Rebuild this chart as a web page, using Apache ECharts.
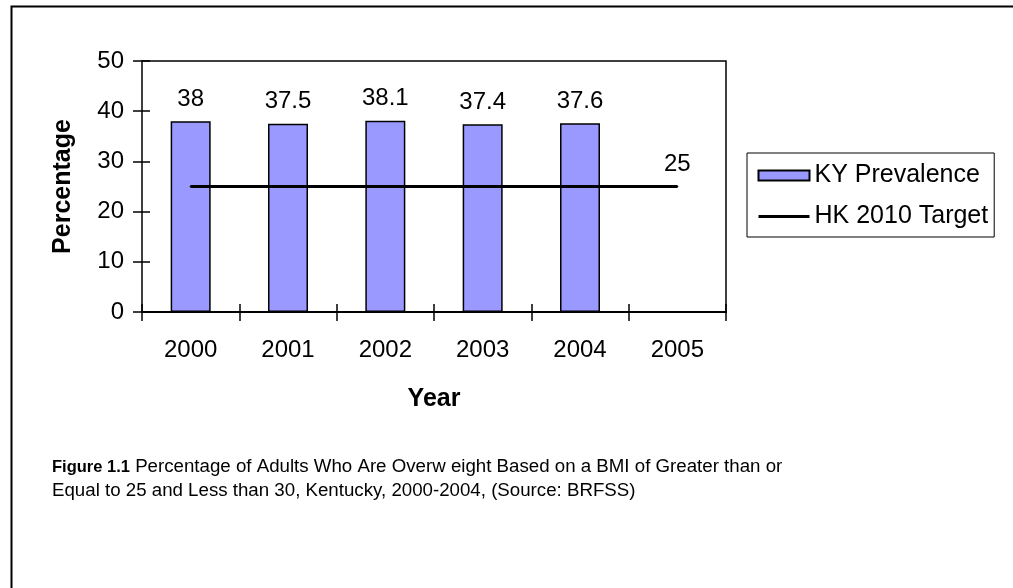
<!DOCTYPE html>
<html>
<head>
<meta charset="utf-8">
<script src="https://cdn.jsdelivr.net/npm/echarts@6/dist/echarts.min.js"></script>
<style>
html, body { margin: 0; padding: 0; background: #fff; }
#chart { width: 1013px; height: 588px; }
</style>
</head>
<body>
<div id="chart"></div>
<script>
const years = ["2000", "2001", "2002", "2003", "2004", "2005"]
const kyPrevalence = [38, 37.5, 38.1, 37.4, 37.6, "-"]
const hkTarget = [25, 25, 25, 25, 25, 25]
const yTicks = { min: 0, max: 50, interval: 10 }
const captionLines = [
	"Percentage of Adults Who Are Overw eight Based on a BMI of Greater than or",
	"Equal to 25 and Less than 30, Kentucky, 2000-2004, (Source: BRFSS)"
]

const chart = echarts.init(document.getElementById("chart"))
const font = "Liberation Sans, Arial, sans-serif"

// plot box, used to park the second (tick only) x axis on the bottom edge
const gridBox = { left: 142, right: 287, top: 61, bottom: 276 }
const plotH = 588 - gridBox.top - gridBox.bottom
// y ticks cross the axis: push the axis 8px in and let the ticks run back out
const yTickIn = 8

const tickLine = { color: "#000", width: 1.5 }
const axisLine = { color: "#000", width: 2 }

const option = {
	backgroundColor: "#fff",
	animation: false,
	textStyle: { fontFamily: font, color: "#000" },
	grid: {
		...gridBox,
		show: true,
		borderColor: "#000",
		borderWidth: 1.5,
		backgroundColor: "transparent"
	},
	legend: {
		orient: "vertical",
		left: 747,
		top: 153,
		padding: [10, 6, 8, 10],
		itemGap: 16,
		itemWidth: 51,
		itemHeight: 10,
		borderColor: "#000",
		borderWidth: 1,
		textStyle: { fontSize: 25, color: "#000", fontFamily: font },
		data: [
			{ name: "KY Prevalence", icon: "rect" },
			{ name: "HK 2010 Target", itemStyle: { opacity: 0 }, lineStyle: { width: 3, color: "#000" } }
		]
	},
	xAxis: [
		{
			type: "category",
			data: years,
			position: "bottom",
			name: "Year",
			nameLocation: "middle",
			nameGap: 75,
			nameTextStyle: { fontSize: 25, fontWeight: "bold", color: "#000" },
			axisLine: { show: true, onZero: false, lineStyle: axisLine },
			axisTick: { show: true, length: 9, lineStyle: tickLine },
			axisLabel: { fontSize: 24, color: "#000", margin: 26 }
		},
		{
			// sits on the bottom edge, ticks pointing up into the plot
			type: "category",
			data: years,
			position: "top",
			offset: -plotH,
			axisLine: { show: true, onZero: false, lineStyle: axisLine },
			axisTick: { show: true, length: 8, lineStyle: tickLine },
			axisLabel: { show: false }
		}
	],
	yAxis: {
		type: "value",
		position: "left",
		offset: -yTickIn,
		min: yTicks.min,
		max: yTicks.max,
		interval: yTicks.interval,
		name: "Percentage",
		nameLocation: "middle",
		nameRotate: 90,
		nameGap: 66 + yTickIn,
		nameTextStyle: { fontSize: 25, fontWeight: "bold", color: "#000" },
		axisLine: { show: false, onZero: false },
		axisTick: { show: true, length: 9 + yTickIn, lineStyle: tickLine },
		axisLabel: { fontSize: 24, color: "#000", margin: 18 + yTickIn },
		splitLine: { show: false }
	},
	series: [
		{
			name: "KY Prevalence",
			type: "bar",
			barWidth: 40,
			data: kyPrevalence,
			itemStyle: { color: "#9999FF", borderColor: "#000", borderWidth: 1.5 },
			label: {
				show: true,
				position: "top",
				distance: 10,
				fontSize: 24,
				color: "#000",
				fontFamily: font
			}
		},
		{
			name: "HK 2010 Target",
			type: "line",
			data: hkTarget,
			symbol: "circle",
			symbolSize: 2,
			showSymbol: true,
			lineStyle: { color: "#000", width: 3 },
			itemStyle: { color: "#000" },
			label: {
				show: true,
				position: "top",
				distance: 9,
				fontSize: 24,
				color: "#000",
				fontFamily: font,
				formatter: (p) => (p.dataIndex === years.length - 1 ? String(p.value) : "")
			}
		}
	],
	graphic: [
		{
			type: "rect",
			left: 9,
			top: 4,
			shape: { width: 1030, height: 620 },
			style: { fill: "none", stroke: "#000", lineWidth: 2 },
			silent: true
		},
		{
			type: "text",
			left: 52,
			top: 455,
			style: {
				text: "{b|Figure 1.1} " + captionLines[0] + "\n" + captionLines[1],
				fontSize: 18.7,
				lineHeight: 24,
				fontFamily: font,
				fill: "#000",
				rich: {
					b: { fontSize: 16.5, fontWeight: "bold", fontFamily: font, lineHeight: 24 }
				}
			}
		}
	]
}

chart.setOption(option)
</script>
</body>
</html>
